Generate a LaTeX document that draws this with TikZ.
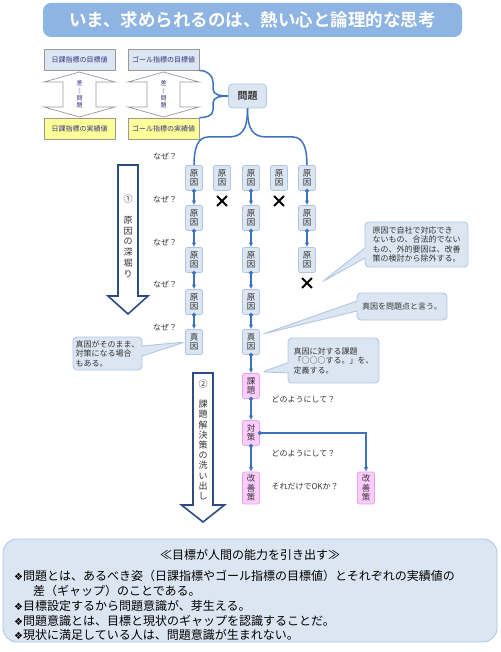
\documentclass[tikz,border=0pt]{standalone}
\usepackage{fontspec}
\setmainfont{Noto Sans CJK JP}[BoldFont={Noto Sans CJK JP Bold}]
\newfontfamily\symfont{DejaVu Sans}
\usetikzlibrary{arrows.meta,shapes.callouts,shapes.misc,positioning}

\definecolor{titleblue}{HTML}{8DB4E2}
\definecolor{paleblue}{HTML}{DCE6F2}
\definecolor{edgeblue}{HTML}{B0C6E4}
\definecolor{linkblue}{HTML}{3D72C0}
\definecolor{navy}{HTML}{2B4C86}
\definecolor{palepink}{HTML}{FFCCFF}
\definecolor{pinkedge}{HTML}{E3A6E3}
\definecolor{paleyellow}{HTML}{FFFF99}
\definecolor{inkgray}{HTML}{333333}
\definecolor{inkblue}{HTML}{33337F}

\tikzset{
  cause/.style={draw=edgeblue, fill=paleblue, line width=0.8pt, rounded corners=2pt,
    minimum width=17pt, minimum height=25pt, inner sep=0pt, align=center,
    font=\fontsize{8.5}{9.5}\selectfont, text=inkgray},
  measure/.style={cause, fill=palepink, draw=pinkedge},
  goalbox/.style={draw=gray!80, line width=0.7pt, minimum width=71pt, minimum height=21pt,
    inner sep=0pt, font=\fontsize{7}{8}\selectfont, text=inkblue},
  link/.style={linkblue, line width=1.4pt,
    {Circle[length=4pt]}-{Latex[length=4.5pt,width=4.5pt]}, shorten <=-2pt},
  brace/.style={linkblue, line width=1.5pt},
  bigarrow/.style={draw=navy, line width=1.6pt, fill=white, line join=miter},
  gaparrow/.style={draw=gray!80, line width=0.7pt, fill=white},
  note/.style={rectangle callout, draw=edgeblue, fill=paleblue, line width=0.9pt,
    rounded corners=4pt, align=left, callout pointer width=10pt,
    font=\fontsize{8}{9.5}\selectfont, text=inkgray},
  why/.style={font=\fontsize{8}{9}\selectfont, text=inkgray},
  xmark/.style={cross out, draw=black, line width=1.8pt, minimum size=8pt, inner sep=0pt},
  summary/.style={font=\fontsize{12}{14}\selectfont, text=black, anchor=west, inner sep=0pt}
}

\begin{document}
\begin{tikzpicture}[x=1pt,y=-1pt]
    \useasboundingbox (0,0) rectangle (500,652);

    % タイトル
    \node[fill=titleblue, rounded corners=8pt, minimum width=419pt, minimum height=34pt,
          text=white, font=\fontsize{17.5}{20}\selectfont\bfseries] (T) at (252.5,20)
          {いま、求められるのは、熱い心と論理的な思考};

    % 目標値と実績値
    \node[goalbox, fill=paleblue] (G1) at (79.5,59.5) {日課指標の目標値};
    \node[goalbox, fill=paleblue] (G2) at (163.5,59.5) {ゴール指標の目標値};
    \node[goalbox, fill=paleyellow] (R1) at (79.5,128.5) {日課指標の実績値};
    \node[goalbox, fill=paleyellow] (R2) at (163.5,128.5) {ゴール指標の実績値};

    \draw[gaparrow] (79.5,72) -- (44,82) -- (63,82) -- (63,107) -- (44,107) -- (79.5,117)
        -- (115,107) -- (96,107) -- (96,82) -- (115,82) -- cycle;
    \draw[gaparrow] (163.5,72) -- (128,82) -- (147,82) -- (147,107) -- (128,107) -- (163.5,117)
        -- (199,107) -- (180,107) -- (180,82) -- (199,82) -- cycle;
    \node[align=center, inner sep=0pt, text=inkblue, font=\fontsize{6}{7.3}\selectfont] (D1)
        at (79.5,94.5) {差\\‖\\問\\題};
    \node[align=center, inner sep=0pt, text=inkblue, font=\fontsize{6}{7.3}\selectfont] (D2)
        at (163.5,94.5) {差\\‖\\問\\題};

    % 問題
    \node[cause, minimum width=38pt, minimum height=24pt, rounded corners=4pt,
          font=\fontsize{10}{12}\selectfont\bfseries] (P) at (247.5,96) {問題};
    \draw[brace] (G2.south east) to[out=0,in=90] (213,82) -- (213,89) to[out=-90,in=180] (P.west);
    \draw[brace] (R2.north east) to[out=0,in=-90] (213,110) -- (213,103) to[out=90,in=180] (P.west);

    % 原因
    \node[cause] (C11) at (194,178) {原\\因};
    \node[cause] (C12) at (194,218) {原\\因};
    \node[cause] (C13) at (194,260) {原\\因};
    \node[cause] (C14) at (194,302) {原\\因};
    \node[cause] (C15) at (194,342) {真\\因};

    \node[cause] (C21) at (222,178) {原\\因};
    \node[xmark] (X2) at (222,201) {};

    \node[cause] (C31) at (251,178) {原\\因};
    \node[cause] (C32) at (251,218) {原\\因};
    \node[cause] (C33) at (251,260) {原\\因};
    \node[cause] (C34) at (251,302) {原\\因};
    \node[cause] (C35) at (251,342) {真\\因};

    \node[cause] (C41) at (279,178) {原\\因};
    \node[xmark] (X4) at (279,201) {};

    \node[cause] (C51) at (307,178) {原\\因};
    \node[cause] (C52) at (307,218) {原\\因};
    \node[cause] (C53) at (307,260) {原\\因};
    \node[xmark] (X5) at (307,283) {};

    \draw[brace] (P.south) .. controls (247.5,130) and (242,137) .. (228,137) -- (208,137)
        .. controls (197,137) and (194,150) .. (C11.north);
    \draw[brace] (P.south) .. controls (247.5,130) and (253,137) .. (267,137) -- (293,137)
        .. controls (304,137) and (307,150) .. (C51.north);

    \draw[link] (C11.south) -- (C12.north);
    \draw[link] (C12.south) -- (C13.north);
    \draw[link] (C13.south) -- (C14.north);
    \draw[link] (C14.south) -- (C15.north);
    \draw[link] (C31.south) -- (C32.north);
    \draw[link] (C32.south) -- (C33.north);
    \draw[link] (C33.south) -- (C34.north);
    \draw[link] (C34.south) -- (C35.north);
    \draw[link] (C51.south) -- (C52.north);
    \draw[link] (C52.south) -- (C53.north);

    % 課題・対策・改善策
    \node[measure] (K) at (251,386) {課\\題};
    \node[measure] (M) at (251,433) {対\\策};
    \node[measure, minimum height=32pt] (V1) at (251,488) {改\\善\\策};
    \node[measure, minimum height=32pt] (V2) at (366,488) {改\\善\\策};

    \draw[link] (C35.south) -- (K.north);
    \draw[link] (K.south) -- (M.north);
    \draw[link] (M.south) -- (V1.north);
    \draw[link] (M.east) -| (V2.north);

    % なぜ？
    \node[why] (W1) at (165,156) {なぜ？};
    \node[why] (W2) at (165,199) {なぜ？};
    \node[why] (W3) at (165,242) {なぜ？};
    \node[why] (W4) at (165,284) {なぜ？};
    \node[why] (W5) at (165,327) {なぜ？};

    \node[why, anchor=west] (H1) at (268,399) {どのようにして？};
    \node[why, anchor=west] (H2) at (268,453) {どのようにして？};
    \node[why, anchor=west] (H3) at (268,487) {それだけでOKか？};

    % 大きな矢印
    \draw[bigarrow] (118,165) -- (138,165) -- (138,296) -- (148,296) -- (128,314) -- (108,296)
        -- (118,296) -- cycle;
    \node[align=center, inner sep=0pt, text=inkgray, font=\fontsize{9}{10.7}\selectfont] (A1)
        at (128,236) {①\\[10.7pt]原\\因\\の\\深\\堀\\り};
    \draw[bigarrow] (193,373) -- (213,373) -- (213,505) -- (224.5,505) -- (203,522) -- (181.5,505)
        -- (193,505) -- cycle;
    \node[align=center, inner sep=0pt, text=inkgray, font=\fontsize{9}{10.2}\selectfont] (A2)
        at (203,440) {②\\[9.8pt]課\\題\\解\\決\\策\\の\\洗\\い\\出\\し};

    % 吹き出し
    \coordinate (n1tip) at (322,282);
    \coordinate (n2tip) at (263,334);
    \coordinate (n3tip) at (262,372);
    \node[note, minimum width=103pt, minimum height=45pt, inner xsep=5pt,
          callout absolute pointer={(n1tip)}] (N1) at (416.5,244.5)
          {原因で自社で対応でき\\ないもの、合法的でない\\もの、外的要因は、改善\\策の検討から除外する。};
    \node[note, minimum width=90pt, minimum height=27pt,
          callout absolute pointer={(n2tip)}] (N2) at (402,306.5) {真因を問題点と言う。};
    \node[note, minimum width=91pt, minimum height=45pt, inner xsep=5pt,
          callout absolute pointer={(n3tip)}] (N3) at (333.5,360.5)
          {真因に対する課題\\「○○○する。」を、\\定義する。};
    \node[note, minimum width=69pt, minimum height=31pt, inner xsep=2.5pt,
          callout absolute pointer={(C15.west)}] (N4) at (107.5,353.5)
          {真因がそのまま、\\対策になる場合\\もある。};

    % まとめ
    \node[fill=paleblue, draw=edgeblue, line width=0.9pt, rounded corners=14pt,
          minimum width=494pt, minimum height=103pt] (S) at (250,590.5) {};
    \node[summary, anchor=center] (S0) at (250,555) {≪目標が人間の能力を引き出す≫};
    \node[summary] (S1) at (14,576) {{\symfont\fontsize{10}{12}\selectfont ❖}問題とは、あるべき姿（日課指標やゴール指標の目標値）とそれぞれの実績値の};
    \node[summary] (S2) at (33,590.5) {差（ギャップ）のことである。};
    \node[summary] (S3) at (14,606) {{\symfont\fontsize{10}{12}\selectfont ❖}目標設定するから問題意識が、芽生える。};
    \node[summary] (S4) at (14,620.5) {{\symfont\fontsize{10}{12}\selectfont ❖}問題意識とは、目標と現状のギャップを認識することだ。};
    \node[summary] (S5) at (14,634.5) {{\symfont\fontsize{10}{12}\selectfont ❖}現状に満足している人は、問題意識が生まれない。};

\end{tikzpicture}
\end{document}
